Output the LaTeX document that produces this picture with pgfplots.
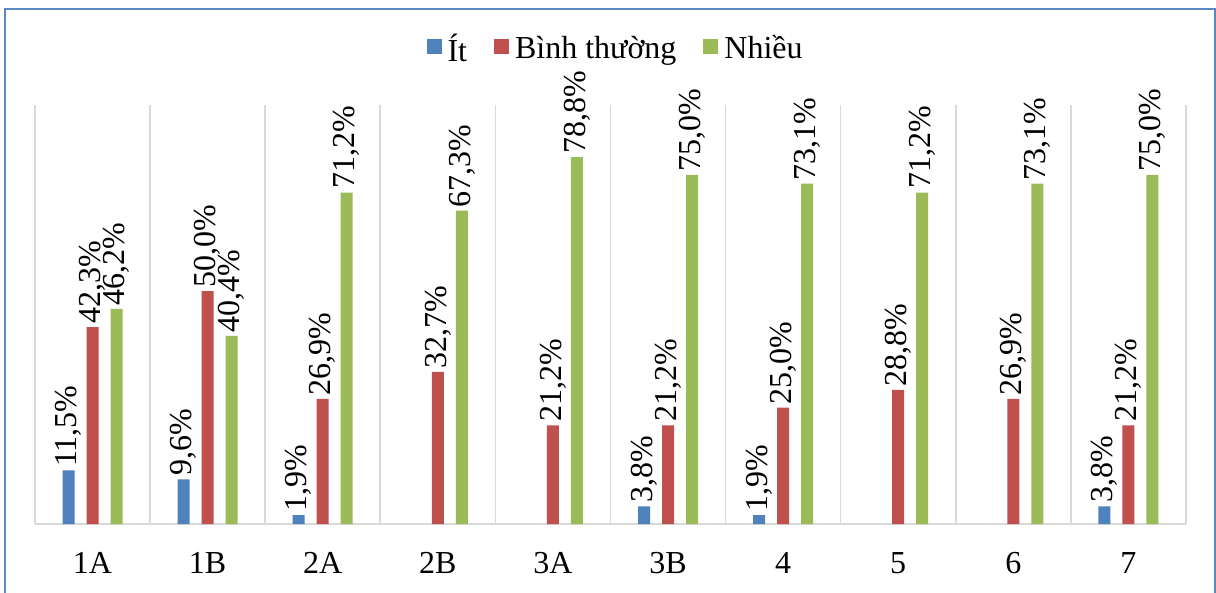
\documentclass[border=0pt]{standalone}
\usepackage{pgfplots}
\pgfplotsset{compat=1.18}
\usepackage{fontspec}
\setmainfont{Liberation Serif}
\definecolor{cblue}{HTML}{4F81BD}
\definecolor{cred}{HTML}{C0504D}
\definecolor{cgreen}{HTML}{9BBB59}
\definecolor{cgrid}{HTML}{D9D9D9}
\definecolor{cframe}{HTML}{5B87C5}
\begin{document}
\begin{tikzpicture}[x=1pt,y=1pt]
\useasboundingbox (0,-593) rectangle (1216,0);
\fill[white] (0,-593) rectangle (1216,0);
\begin{axis}[
  at={(35pt,-524pt)}, anchor=south west,
  scale only axis, width=1151pt, height=419pt,
  xmin=-0.5, xmax=9.5, ymin=0, ymax=90,
  axis line style={draw=none},
  xtick={0,...,9},
  xticklabels={1A,1B,2A,2B,3A,3B,4,5,6,7},
  major tick length=0pt, minor tick length=0pt,
  minor xtick={-0.5,0.5,...,9.5},
  xminorgrids,
  minor grid style={cgrid, line width=1.6pt},
  ytick={0}, yticklabels={}, ymajorgrids,
  major grid style={cgrid, line width=1.6pt},
  xticklabel style={anchor=base, yshift=-49pt, font=\fontsize{32}{38}\selectfont},
  ybar=12pt, bar width=12pt,
  /pgf/number format/assume math mode=true,
  nodes near coords={\pgfmathprintnumber[fixed,fixed zerofill,precision=1,use comma]{\pgfplotspointmeta}\%},
  every node near coord/.append style={rotate=90, anchor=west, font=\fontsize{32}{38}\selectfont, text=black},
  legend style={draw=none, fill=none, at={(0.504,1.136)}, anchor=center,
    legend columns=-1, font=\fontsize{32}{38}\selectfont,
    nodes={inner sep=1pt},
    /tikz/every even column/.append style={column sep=26pt},
    /tikz/every odd column/.append style={column sep=5pt}},
  legend image code/.code={\fill[#1] (0pt,-6pt) rectangle (15pt,9pt);},
  clip=false,
]
\addplot[fill=cblue, draw=none] coordinates {(0,11.5) (1,9.6) (2,1.9) (5,3.8) (6,1.9) (9,3.8)};
\addlegendentry{Ít}
\addplot[fill=cred, draw=none] coordinates {(0,42.3) (1,50.0) (2,26.9) (3,32.7) (4,21.2) (5,21.2) (6,25.0) (7,28.8) (8,26.9) (9,21.2)};
\addlegendentry{Bình thường}
\addplot[fill=cgreen, draw=none] coordinates {(0,46.2) (1,40.4) (2,71.2) (3,67.3) (4,78.8) (5,75.0) (6,73.1) (7,71.2) (8,73.1) (9,75.0)};
\addlegendentry{Nhiều}
\end{axis}
\draw[cframe, line width=2pt] (5,-610) -- (5,-9) -- (1214.5,-9) -- (1214.5,-610);
\end{tikzpicture}
\end{document}
